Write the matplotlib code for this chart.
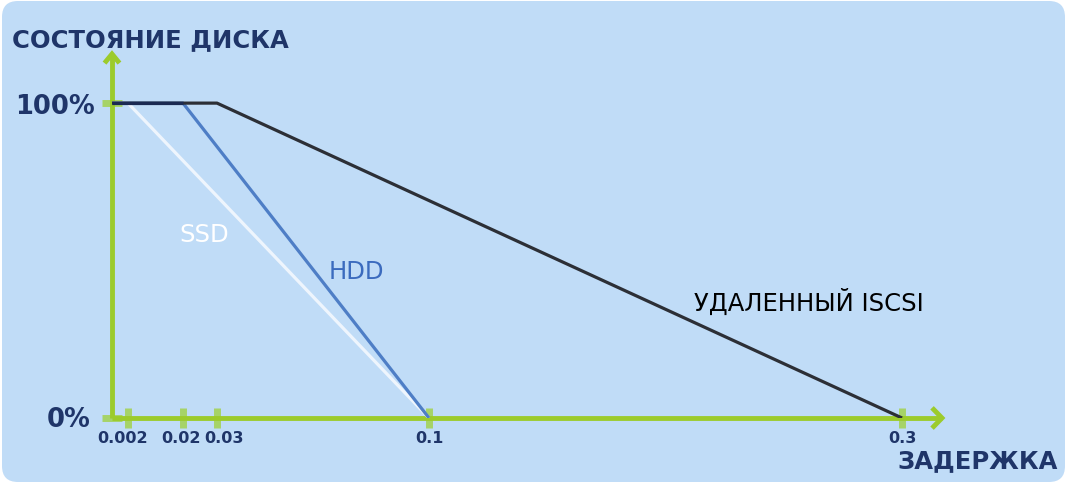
import numpy as np
import matplotlib
matplotlib.use("Agg")
import matplotlib.pyplot as plt
from matplotlib.patches import FancyBboxPatch
import matplotlib.transforms as mtransforms

# ---- data ----
series_names = ["SSD", "HDD", "УДАЛЕННЫЙ ISCSI"]
ssd_x = [0.0, 0.002, 0.1]
ssd_y = [100, 100, 0]
hdd_x = [0.0, 0.02, 0.1]
hdd_y = [100, 100, 0]
iscsi_x = [0.0, 0.03, 0.3]
iscsi_y = [100, 100, 0]
x_ticks = [0.002, 0.02, 0.03, 0.1, 0.3]
x_tick_labels = ["0.002", "0.02", "0.03", "0.1", "0.3"]
y_ticks = [0, 100]
y_tick_labels = ["0%", "100%"]
x_title = "ЗАДЕРЖКА"
y_title = "СОСТОЯНИЕ ДИСКА"

# ---- non-uniform axis scale (breakpoints -> relative position) ----
scale_vals = np.array([0.0, 0.002, 0.02, 0.03, 0.1, 0.3, 0.32])
scale_pos = np.array([0.0, 16.0, 71.0, 105.0, 317.0, 790.0, 837.3])

def fwd(x):
    return np.interp(x, scale_vals, scale_pos)

def inv(p):
    return np.interp(p, scale_pos, scale_vals)

W, H = 1067, 485
fig = plt.figure(figsize=(W / 100, H / 100), dpi=100)
fig.patch.set_facecolor("white")

bg = FancyBboxPatch((2, 2), W - 4, H - 4, boxstyle="round,pad=0,rounding_size=16",
                    transform=None, facecolor="#C0DCF7", edgecolor="none", zorder=-10)
fig.patches.append(bg)

navy = "#1F3569"
green = "#9CCB2C"
tick_green = (0.62, 0.82, 0.22, 0.75)

ax_l, ax_r, ax_b, ax_t = 112, 942, 419, 55
ax = fig.add_axes([ax_l / W, (H - ax_b) / H, (ax_r - ax_l) / W, (ax_b - ax_t) / H])
ax.set_zorder(1)
ax.set_facecolor("none")
ax.set_xscale("function", functions=(fwd, inv))
ax.set_xlim(0, 0.3169)
ax.set_ylim(0, 115.6)
for s in ax.spines.values():
    s.set_visible(False)

# axes lines
ax.plot([0, 1], [0, 0], transform=ax.transAxes, color=green, lw=3.5, clip_on=False,
        solid_capstyle="butt", zorder=2)
ax.plot([0, 0], [0, 1], transform=ax.transAxes, color=green, lw=3.5, clip_on=False,
        solid_capstyle="butt", zorder=2)
# chevron arrow heads
ax.plot([0.988, 1.0, 0.988], [0.028, 0.0, -0.028], transform=ax.transAxes, color=green,
        lw=3.5, clip_on=False, solid_capstyle="butt", solid_joinstyle="miter", zorder=2)
ax.plot([-0.009, 0.0, 0.009], [0.975, 1.0, 0.975], transform=ax.transAxes, color=green,
        lw=3.5, clip_on=False, solid_capstyle="butt", solid_joinstyle="miter", zorder=2)

# series lines
ax.plot(ssd_x, ssd_y, color="#EEF5FD", lw=2.3, zorder=3, solid_capstyle="butt")
ax.plot(hdd_x, hdd_y, color="#4E7EC6", lw=2.3, zorder=4, solid_capstyle="butt")
ax.plot(iscsi_x, iscsi_y, color="#2C2F36", lw=2.3, zorder=5, solid_capstyle="butt")
ax.plot(hdd_x[:2], hdd_y[:2], color="#1B2A52", lw=2.3, zorder=6, solid_capstyle="butt")

# ticks
ax.set_xticks(x_ticks)
ax.set_xticklabels(x_tick_labels, fontsize=11.5, fontweight="bold", color=navy)
ax.set_yticks(y_ticks)
ax.set_yticklabels(y_tick_labels, fontsize=18.5, fontweight="bold", color=navy)
ax.tick_params(axis="x", direction="inout", length=14, width=5, color=tick_green, pad=2)
ax.tick_params(axis="y", direction="inout", length=15, width=5, color=tick_green, pad=4.5)
ax.minorticks_off()

def shift(label, dx, dy=0):
    label.set_transform(label.get_transform() +
                        mtransforms.ScaledTranslation(dx / 100, dy / 100, fig.dpi_scale_trans))

xl = ax.get_xticklabels()
shift(xl[0], -5)
shift(xl[1], -2)
shift(xl[2], 7)
yl = ax.get_yticklabels()
shift(yl[0], -5, 2)

# series labels
ax.text(0.0188, 58.4, series_names[0], color="white", fontsize=17.5, ha="left", va="center")
ax.text(0.067, 46.7, series_names[1], color="#3B6BBE", fontsize=17.5, ha="left", va="center")
ax.text(0.212, 37.1, series_names[2], color="black", fontsize=17.5, ha="left", va="center")

# axis titles
fig.text(12 / W, 1 - 40 / H, y_title, fontsize=17.5, fontweight="bold", color=navy,
         ha="left", va="center")
fig.text(1058 / W, 1 - 461 / H, x_title, fontsize=17.5, fontweight="bold", color=navy,
         ha="right", va="center")

fig.savefig("out.png", dpi=100, facecolor=fig.get_facecolor())
